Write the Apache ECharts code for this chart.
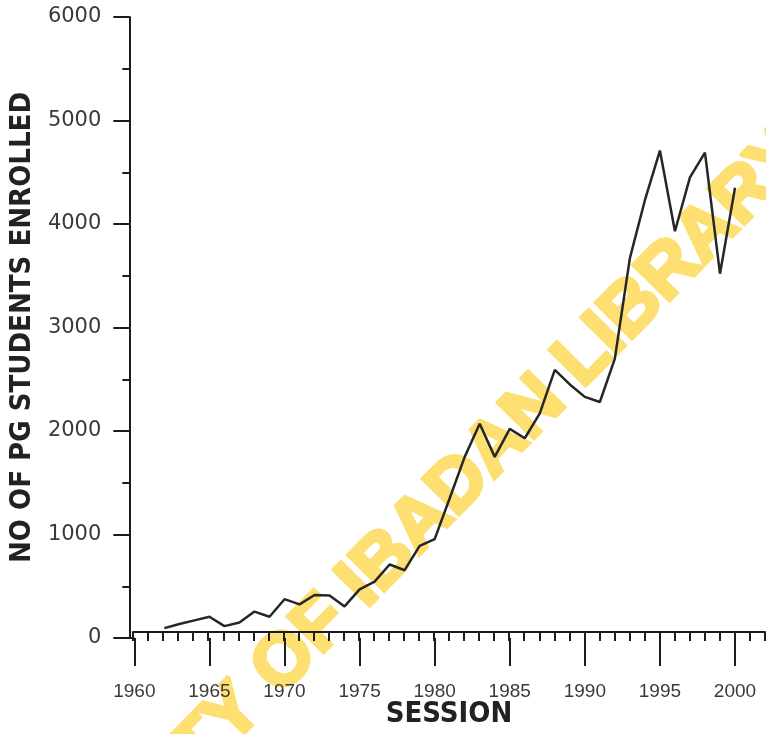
<!DOCTYPE html>
<html><head><meta charset="utf-8">
<script src="https://cdn.jsdelivr.net/npm/echarts@6/dist/echarts.min.js"></script>
<style>html,body{margin:0;padding:0;background:#fff}#c{width:766px;height:734px}</style>
</head><body><div id="c"></div>
<script>
// Sessions (years) and number of PG students enrolled
const sessions = [1962,1963,1964,1965,1966,1967,1968,1969,1970,1971,1972,1973,1974,1975,1976,1977,1978,1979,1980,
  1981,1982,1983,1984,1985,1986,1987,1988,1989,1990,1991,1992,1993,1994,1995,1996,1997,1998,1999,2000];
const enrolled = [95,135,170,205,115,150,255,205,375,325,415,410,305,470,545,710,655,890,955,
  1350,1750,2070,1750,2020,1930,2170,2590,2450,2330,2280,2700,3670,4230,4710,3930,4450,4690,3520,4350];
const xMajorTicks = [1960,1965,1970,1975,1980,1985,1990,1995,2000];
const yMajorTicks = [0,1000,2000,3000,4000,5000,6000];
const xTitle = 'SESSION';
const yTitle = 'NO OF PG STUDENTS ENROLLED';
const watermark = 'UNIVERSITY OF IBADAN LIBRARY';

const chart = echarts.init(document.getElementById('c'), null, {renderer:'canvas'});
const ink = '#1c1c1c';
const option = {
  backgroundColor:'#ffffff',
  animation:false,
  grid:[
    {left:133, right:31, top:17, bottom:96},
    {left:133, right:1, top:17, bottom:96}
  ],
  xAxis:[
    {gridIndex:0, type:'value', min:xMajorTicks[0], max:xMajorTicks[xMajorTicks.length-1], interval:5,
     axisLine:{show:false}, splitLine:{show:false},
     axisTick:{show:true, length:28, lineStyle:{color:ink, width:2}},
     axisLabel:{margin:44, fontSize:19, fontFamily:'Liberation Sans', color:'#3a3a3a',
       formatter:v=> xMajorTicks.includes(v) ? String(v) : ''}},
    {gridIndex:1, type:'value', min:1960, max:2002, interval:1,
     axisLine:{show:true, onZero:false, lineStyle:{color:ink, width:2}}, splitLine:{show:false},
     axisTick:{show:true, length:9, lineStyle:{color:ink, width:2}},
     axisLabel:{show:false},
     name:xTitle, nameLocation:'middle', nameGap:68,
     nameTextStyle:{fontSize:29, fontWeight:'bold', fontFamily:'DejaVu Sans Condensed', color:'#222'}}
  ],
  yAxis:[
    {gridIndex:0, type:'value', min:0, max:6000, interval:1000, offset:5,
     axisLine:{show:true, lineStyle:{color:ink, width:2}}, splitLine:{show:false},
     axisTick:{show:true, length:16, lineStyle:{color:ink, width:2}},
     minorTick:{show:true, splitNumber:2, length:7, lineStyle:{color:ink, width:2}},
     minorSplitLine:{show:false},
     axisLabel:{margin:28, fontSize:21, fontFamily:'DejaVu Sans', color:'#3a3a3a',
       formatter:v=> yMajorTicks.includes(v) ? String(v) : ''},
     name:yTitle, nameLocation:'middle', nameGap:81, nameRotate:90,
     nameTextStyle:{fontSize:29, fontWeight:'bold', fontFamily:'DejaVu Sans Condensed', color:'#222'}},
    {gridIndex:1, type:'value', min:0, max:6000, show:false}
  ],
  series:[{
    type:'line', xAxisIndex:0, yAxisIndex:0, z:10,
    data: sessions.map((s,i)=>[s, enrolled[i]]),
    showSymbol:false, symbol:'none', smooth:false,
    lineStyle:{color:'#262626', width:2.5}
  }]
};
chart.setOption(option);

// axis line stub left of the y axis, and watermark (behind the line)
const p0 = chart.convertToPixel({gridIndex:0}, [1960, 0]);
chart.setOption({
  graphic:[
    {type:'line', shape:{x1:p0[0]-17, y1:p0[1], x2:p0[0], y2:p0[1]}, style:{stroke:ink, lineWidth:2}, z:5},
    {type:'text', x:368, y:578, rotation:45.5*Math.PI/180, z:0,
     style:{text:watermark, font:'bold 74px "Liberation Sans"', fill:'#FDDF72', stroke:'#FDDF72', lineWidth:4,
       align:'center', verticalAlign:'middle', textAlign:'center', textVerticalAlign:'middle'}}
  ]
});
</script>
</body></html>
